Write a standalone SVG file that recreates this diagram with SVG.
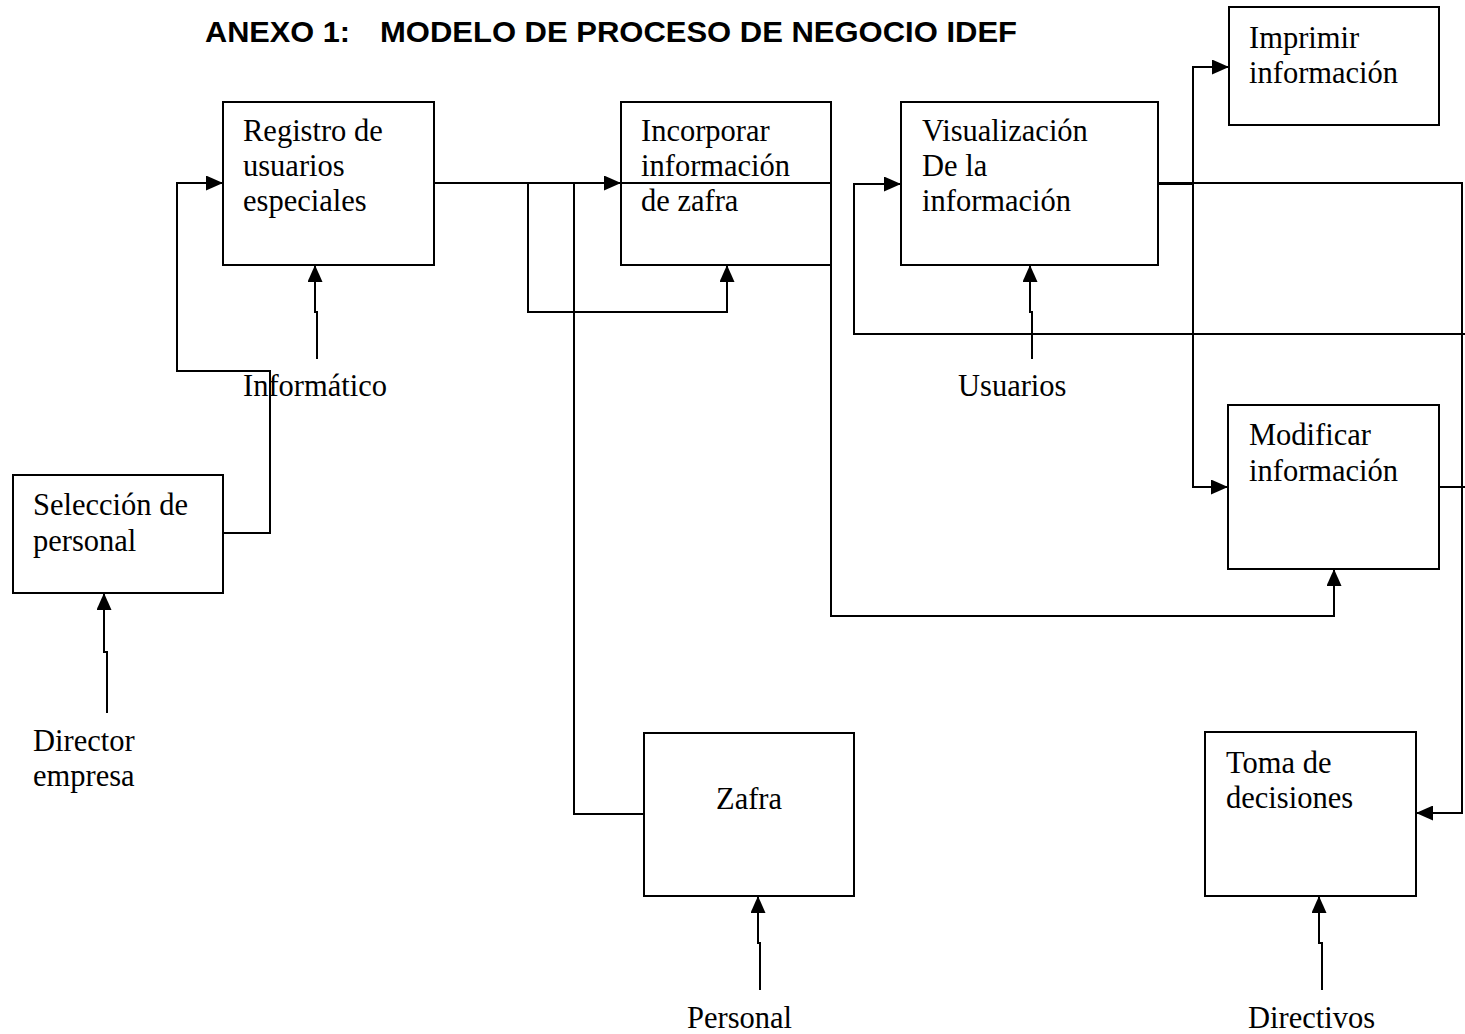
<svg xmlns="http://www.w3.org/2000/svg" width="1465" height="1034" viewBox="0 0 1465 1034">
  <defs>
    <marker id="arrow" viewBox="0 0 17 15" markerWidth="17" markerHeight="15" refX="17" refY="7.5" orient="auto" markerUnits="userSpaceOnUse">
      <path d="M0,0 L17,7.5 L0,15 z" fill="#000"/>
    </marker>
    <style>
      .box { fill: #fff; stroke: #000; stroke-width: 2; }
      .wire { fill: none; stroke: #000; stroke-width: 2; }
      .arr { marker-end: url(#arrow); }
      .lbl { font-family: "Liberation Serif", "Times New Roman", serif; font-size: 30.5px; fill: #000; }
      .title { font-family: "Liberation Sans", Arial, sans-serif; font-size: 30px; font-weight: bold; fill: #000; }
    </style>
  </defs>

  <rect width="1465" height="1034" fill="#fff"/>

  <!-- Heading -->
  <g id="title">
    <text class="title" x="205" y="42" textLength="145" lengthAdjust="spacingAndGlyphs">ANEXO 1:</text>
    <text class="title" x="380" y="42" textLength="637" lengthAdjust="spacingAndGlyphs">MODELO DE PROCESO DE NEGOCIO IDEF</text>
  </g>

  <!-- Activity boxes -->
  <g id="registro">
    <rect class="box" x="223" y="102" width="211" height="163"/>
    <text class="lbl" x="243" y="141">Registro de</text>
    <text class="lbl" x="243" y="176">usuarios</text>
    <text class="lbl" x="243" y="211">especiales</text>
  </g>

  <g id="incorporar">
    <rect class="box" x="621" y="102" width="210" height="163"/>
    <text class="lbl" x="641" y="141">Incorporar</text>
    <text class="lbl" x="641" y="176">información</text>
    <text class="lbl" x="641" y="211">de zafra</text>
  </g>

  <g id="visualizacion">
    <rect class="box" x="901" y="102" width="257" height="163"/>
    <text class="lbl" x="922" y="141">Visualización</text>
    <text class="lbl" x="922" y="176">De la</text>
    <text class="lbl" x="922" y="211">información</text>
  </g>

  <g id="imprimir">
    <rect class="box" x="1229" y="7" width="210" height="118"/>
    <text class="lbl" x="1249" y="48">Imprimir</text>
    <text class="lbl" x="1249" y="83">información</text>
  </g>

  <g id="modificar">
    <rect class="box" x="1228" y="405" width="211" height="164"/>
    <text class="lbl" x="1249" y="445">Modificar</text>
    <text class="lbl" x="1249" y="481">información</text>
  </g>

  <g id="seleccion">
    <rect class="box" x="13" y="475" width="210" height="118"/>
    <text class="lbl" x="33" y="515">Selección de</text>
    <text class="lbl" x="33" y="551">personal</text>
  </g>

  <g id="zafra">
    <rect class="box" x="644" y="733" width="210" height="163"/>
    <text class="lbl" x="716" y="809">Zafra</text>
  </g>

  <g id="toma">
    <rect class="box" x="1205" y="732" width="211" height="164"/>
    <text class="lbl" x="1226" y="773">Toma de</text>
    <text class="lbl" x="1226" y="808">decisiones</text>
  </g>

  <!-- Mechanism labels -->
  <g id="informatico"><text class="lbl" x="243" y="396">Informático</text></g>
  <g id="usuarios"><text class="lbl" x="958" y="396">Usuarios</text></g>
  <g id="director">
    <text class="lbl" x="33" y="751">Director</text>
    <text class="lbl" x="33" y="786">empresa</text>
  </g>
  <g id="personal"><text class="lbl" x="687" y="1028">Personal</text></g>
  <g id="directivos"><text class="lbl" x="1248" y="1028">Directivos</text></g>

  <!-- Connectors -->
  <g id="connectors">
    <!-- Selección -> Registro -->
    <path class="wire arr" d="M223,533 H270 V371 H177 V183 H223"/>
    <!-- Registro -> Incorporar (line runs through the box) -->
    <path class="wire arr" d="M434,183 H621"/>
    <path class="wire" d="M621,183 H831"/>
    <path class="wire arr" d="M528,183 V312 H727 V265"/>
    <!-- Zafra -> Incorporar -->
    <path class="wire" d="M644,814 H574 V183"/>
    <!-- Incorporar -> Modificar -->
    <path class="wire arr" d="M831,265 V616 H1334 V569"/>
    <!-- Feedback into Visualización -->
    <path class="wire arr" d="M1465,334 H854 V184 H901"/>
    <!-- Visualización -> Toma de decisiones -->
    <path class="wire arr" d="M1158,183 H1462 V813 H1416"/>
    <path class="wire" d="M1158,184 H1193" stroke-width="3"/>
    <!-- Visualización -> Imprimir / Modificar -->
    <path class="wire arr" d="M1193,183 V67 H1229"/>
    <path class="wire arr" d="M1193,183 V487 H1228"/>
    <!-- Modificar output -->
    <path class="wire" d="M1439,487 H1465"/>
    <!-- Mechanism arrows -->
    <path class="wire arr" d="M317,359 V312 H315 V265"/>
    <path class="wire arr" d="M1032,359 V312 H1030 V265"/>
    <path class="wire arr" d="M107,713 V652 H104 V593"/>
    <path class="wire arr" d="M760,990 V943 H758 V896"/>
    <path class="wire arr" d="M1322,990 V943 H1319 V896"/>
  </g>
</svg>
